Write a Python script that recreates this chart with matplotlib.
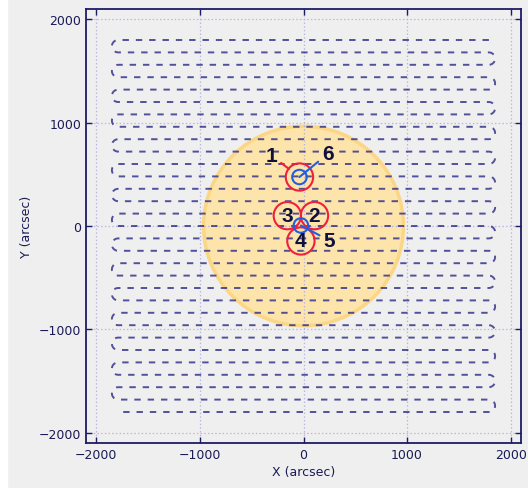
import numpy as np
import matplotlib
matplotlib.use("Agg")
import matplotlib.pyplot as plt
from matplotlib.patches import Circle, Rectangle

# ---------------- data ----------------
scan_rows_y = [1800, 1680, 1560, 1440, 1320, 1200, 1080, 960, 840, 720, 600,
               480, 360, 240, 120, 0, -120, -240, -360, -480, -600, -720,
               -840, -960, -1080, -1200, -1320, -1440, -1560, -1680, -1800]
scan_x_min = -1790
scan_x_max = 1790
turn_radius = 60

sun_center = (0, 0)
sun_radius = 965

red_ids = ["1", "2", "3", "4"]
red_x = [-39, 106, -156, -25]
red_y = [474, 100, 100, -145]
red_r = 132

blue_ids = ["6", "5"]
blue_x = [-39, -25]
blue_y = [474, 5]
blue_r = 70

# labels drawn away from their circles (with leader lines)
lead_ids = ["1", "6", "5"]
lead_x = [-310, 235, 250]
lead_y = [683, 699, -141]

xticks = [-2000, -1000, 0, 1000, 2000]
yticks = [-2000, -1000, 0, 1000, 2000]

# ---------------- style ----------------
navy = "#1c1c66"
bg = "#efefef"
plt.rcParams["lines.scale_dashes"] = False
plt.rcParams["font.family"] = ["DejaVu Sans"]

fig = plt.figure(figsize=(5.28, 4.89), dpi=100, facecolor=bg)
fig.patches.append(Rectangle((0, 0), 7 / 528, 1, transform=fig.transFigure,
                             color="white", zorder=-10))
ax = fig.add_axes([86 / 528, 45 / 489, 435 / 528, 434 / 489])
ax.set_facecolor(bg)

# ---------------- sun disk (below grid and scan) ----------------
ax.add_patch(Circle(sun_center, sun_radius, facecolor="#fde4ab",
                    edgecolor="#fbd685", lw=2.5, zorder=0.2))

# ---------------- scan path ----------------
px, py = [], []
direction = -1  # first row goes right -> left
for i, y in enumerate(scan_rows_y):
    if direction < 0:
        xs = [scan_x_max, scan_x_min]
    else:
        xs = [scan_x_min, scan_x_max]
    px += xs
    py += [y, y]
    if i < len(scan_rows_y) - 1:
        y_next = scan_rows_y[i + 1]
        cy = (y + y_next) / 2
        t = np.linspace(np.pi / 2, 3 * np.pi / 2, 15)
        if direction < 0:  # turn on left side
            tx = xs[1] + turn_radius * np.cos(t)
        else:
            tx = xs[1] - turn_radius * np.cos(t)
        ty = cy + turn_radius * np.sin(t)
        px += list(tx)
        py += list(ty)
    direction *= -1

ax.plot(px, py, color="#2a2a85", lw=1.4, dashes=(4.6, 5.0), alpha=0.8,
        zorder=2)

# ---------------- circles ----------------
for x, y in zip(red_x, red_y):
    ax.add_patch(Circle((x, y), red_r, fill=False, edgecolor="#f0203c",
                        lw=1.5, zorder=5))
for x, y in zip(blue_x, blue_y):
    ax.add_patch(Circle((x, y), blue_r, fill=False, edgecolor="#1f5fe0",
                        lw=1.5, zorder=6))

txt_kw = dict(fontsize=15, fontweight="bold", color="#10103a",
              family=["Liberation Sans", "DejaVu Sans"],
              ha="center", va="center", zorder=8)

# labels inside circles
for lab, x, y in zip(red_ids, red_x, red_y):
    if lab not in lead_ids:
        ax.text(x, y, lab, **txt_kw)

# labels with leader lines
centers = {}
for lab, x, y in zip(red_ids, red_x, red_y):
    centers[lab] = (x, y, "#f0203c", 9.5)
for lab, x, y in zip(blue_ids, blue_x, blue_y):
    centers[lab] = (x, y, "#1f5fe0", 0)
for lab, x, y in zip(lead_ids, lead_x, lead_y):
    cx, cy, col, shr = centers[lab]
    ax.annotate(lab, xy=(cx, cy), xytext=(x, y),
                arrowprops=dict(arrowstyle="-", color=col, lw=1.5,
                                shrinkA=1, shrinkB=shr),
                **txt_kw)

# ---------------- axes ----------------
ax.set_xlim(-2100, 2100)
ax.set_ylim(-2100, 2100)
ax.set_xticks(xticks)
ax.set_yticks(yticks)
ax.tick_params(direction="in", length=4, width=1, colors=navy,
               top=True, right=True, labelsize=9, labelcolor="#1a1a55")
for s in ax.spines.values():
    s.set_color(navy)
    s.set_linewidth(1.3)
ax.grid(True, linestyle=":", color="#b4b4e0", lw=0.9, zorder=0.5)
ax.set_axisbelow(True)
ax.set_xlabel("X (arcsec)", fontsize=9, color="#1a1a55", labelpad=3)
ax.set_ylabel("Y (arcsec)", fontsize=9, color="#1a1a55", labelpad=4)

fig.savefig("out.png", dpi=100, facecolor=bg)
